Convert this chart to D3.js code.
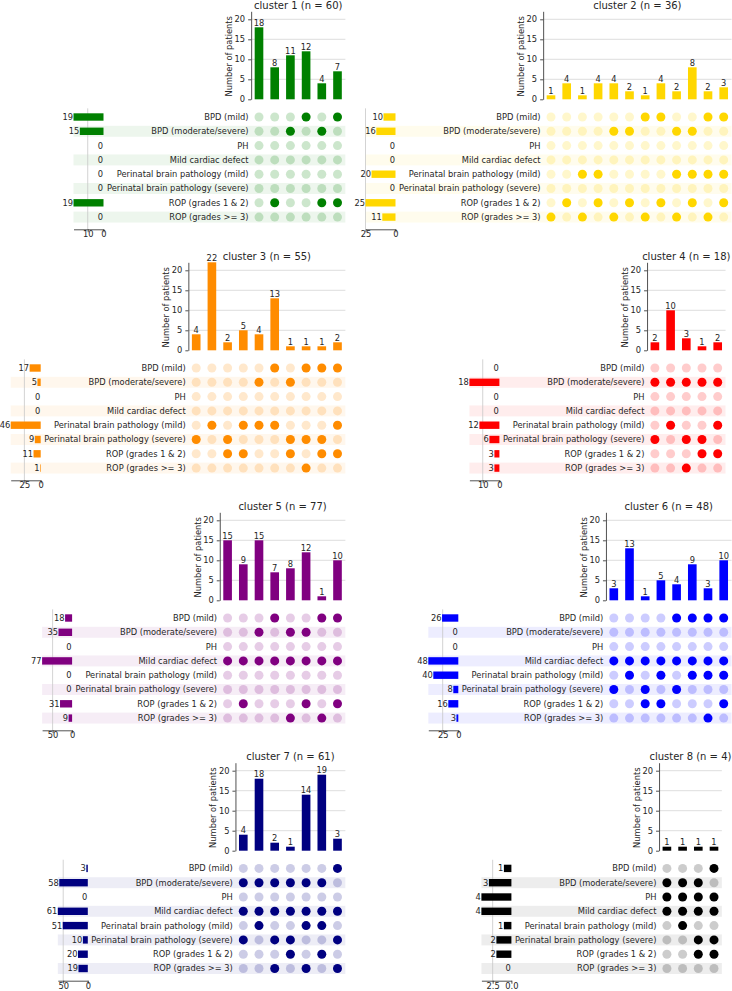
<!DOCTYPE html>
<html>
<head>
<meta charset="utf-8">
<script src="https://cdn.jsdelivr.net/npm/d3@7"></script>
<style>
  body { margin: 0; background: #fff; }
  svg { font-family: "DejaVu Sans", sans-serif; }
</style>
</head>
<body>
<div id="chart"></div>
<script>
// conditions (rows of every matrix)
const categories = [
  "BPD (mild)", "BPD (moderate/severe)", "PH", "Mild cardiac defect",
  "Perinatal brain pathology (mild)", "Perinatal brain pathology (severe)",
  "ROP (grades 1 & 2)", "ROP (grades >= 3)"
];

const clusterNames = ["cluster 1", "cluster 2", "cluster 3", "cluster 4",
                      "cluster 5", "cluster 6", "cluster 7", "cluster 8"];
const clusterN = [60, 36, 55, 18, 77, 48, 61, 4];
const clusterColors = ["#008000", "#ffd700", "#ff8c00", "#ff0000",
                       "#800080", "#0000ff", "#000080", "#000000"];

// intersection sizes per cluster (top bars)
const c1Counts = [18, 8, 11, 12, 4, 7];
const c2Counts = [1, 4, 1, 4, 4, 2, 1, 4, 2, 8, 2, 3];
const c3Counts = [4, 22, 2, 5, 4, 13, 1, 1, 1, 2];
const c4Counts = [2, 10, 3, 1, 2];
const c5Counts = [15, 9, 15, 7, 8, 12, 1, 10];
const c6Counts = [3, 13, 1, 5, 4, 9, 3, 10];
const c7Counts = [4, 18, 2, 1, 14, 19, 3];
const c8Counts = [1, 1, 1, 1];

// which conditions (index into categories) each intersection contains
const c1Members = [[], [6], [1], [0], [1, 6], [0, 6]];
const c2Members = [[7], [6], [4, 7], [4, 6], [1, 7], [1, 6], [0, 7], [0, 6],
                   [1, 4, 7], [1, 4, 6], [0, 4, 7], [0, 4, 6]];
const c3Members = [[5], [4], [5, 6], [4, 6], [1, 4], [0, 4], [1, 5, 6],
                   [0, 5, 7], [0, 5, 6], [0, 4, 6]];
const c4Members = [[1, 5], [1, 4], [1, 5, 7], [1, 5, 6], [1, 4, 6]];
const c5Members = [[3], [3, 6], [1, 3], [0, 3], [1, 3, 7], [1, 3, 6],
                   [0, 3, 7], [0, 3, 6]];
const c6Members = [[3, 5], [3, 4], [3, 5, 6], [3, 4, 6], [0, 3, 5], [0, 3, 4],
                   [0, 3, 4, 7], [0, 3, 4, 6]];
const c7Members = [[1, 3, 5], [1, 3, 4], [1, 3, 5, 7], [1, 3, 5, 6],
                   [1, 3, 4, 7], [1, 3, 4, 6], [0, 3, 5, 7]];
const c8Members = [[1, 2, 3], [1, 2, 3, 4], [1, 2, 3, 5, 6], [0, 2, 3, 5, 6]];

// tick on the set-size axis (besides 0)
const totalsTicks = [10, 25, 25, 10, 50, 25, 50, 2.5];

const allCounts = [c1Counts, c2Counts, c3Counts, c4Counts, c5Counts, c6Counts, c7Counts, c8Counts];
const allMembers = [c1Members, c2Members, c3Members, c4Members, c5Members, c6Members, c7Members, c8Members];

// layout (pixels)
const W = 732, H = 991;
const step = 15.7;           // matrix column width
const rowStep = 14.3;        // matrix row height
const baselines = [99.3, 350.3, 600.3, 850.7];
const lastColX = [337.5, 723.7, 337.5, 717.7, 337.5, 723.7, 337.5, 714];
const textColor = "#262626";
const fs = 8.3;

const svg = d3.select("#chart").append("svg")
  .attr("width", W).attr("height", H);

clusterNames.forEach((name, ci) => {
  const counts = allCounts[ci];
  const members = allMembers[ci];
  const color = clusterColors[ci];
  const b = baselines[Math.floor(ci / 2)];
  const n = counts.length;
  const xRight = lastColX[ci] + step / 2;
  const xLeft = xRight - n * step;

  // set sizes = sum of the intersections holding that condition
  const totals = categories.map((c, k) =>
    d3.sum(counts.filter((v, j) => members[j].includes(k))));

  const g = svg.append("g");

  const x = d3.scaleBand().domain(d3.range(n)).range([xLeft, xRight]);
  const y = d3.scaleLinear().domain([0, 22]).range([b, b - 88]);
  const rowTop = b + 17.7 - rowStep / 2;
  const yRow = d3.scaleBand().domain(categories)
    .range([rowTop, rowTop + rowStep * categories.length]);

  const labelRight = xLeft + step / 2 - 10.5;
  const totRight = labelRight - 145;
  const totLeft = totRight - 30;
  const xt = d3.scaleLinear().domain([0, d3.max(totals)]).range([totRight, totLeft]);

  // row shading
  g.selectAll(".shade")
    .data(categories.filter((c, k) => k % 2 === 1))
    .join("rect")
    .attr("x", totLeft)
    .attr("y", d => yRow(d) + yRow.bandwidth() / 2 - 5.5)
    .attr("width", xRight - totLeft)
    .attr("height", 11)
    .attr("fill", color).attr("fill-opacity", 0.07);

  // totals gridline + axis
  const tick = totalsTicks[ci];
  const fmt = tick % 1 ? d3.format(".1f") : d3.format("d");
  g.append("line")
    .attr("x1", xt(tick)).attr("x2", xt(tick))
    .attr("y1", rowTop - 1.5).attr("y2", b + 130)
    .attr("stroke", "#c8c8c8").attr("stroke-width", 0.8);
  g.append("g")
    .attr("transform", `translate(0,${b + 130})`)
    .call(d3.axisBottom(xt).tickValues([tick, 0]).tickFormat(fmt).tickSize(3).tickSizeOuter(0))
    .call(a => a.select(".domain").attr("stroke", textColor).attr("stroke-width", 0.8))
    .call(a => a.selectAll(".tick line").attr("stroke", textColor).attr("stroke-width", 0.8))
    .call(a => a.selectAll("text").attr("font-size", fs).attr("fill", textColor)
      .attr("font-family", "DejaVu Sans").attr("y", 8.2).attr("dy", 0));

  // totals bars
  g.selectAll(".tot")
    .data(categories)
    .join("rect")
    .attr("x", (d, k) => xt(totals[k]))
    .attr("y", d => yRow(d) + yRow.bandwidth() / 2 - 3.7)
    .attr("width", (d, k) => totRight - xt(totals[k]))
    .attr("height", 7.4)
    .attr("fill", color);
  g.selectAll(".totlab")
    .data(categories)
    .join("text")
    .attr("x", (d, k) => xt(totals[k]) - 0.5)
    .attr("y", d => yRow(d) + yRow.bandwidth() / 2)
    .attr("dy", "0.35em")
    .attr("text-anchor", "end")
    .attr("font-size", fs).attr("fill", textColor)
    .text((d, k) => totals[k]);

  // row labels
  g.selectAll(".rowlab")
    .data(categories)
    .join("text")
    .attr("x", labelRight)
    .attr("y", d => yRow(d) + yRow.bandwidth() / 2)
    .attr("dy", "0.35em")
    .attr("text-anchor", "end")
    .attr("font-size", fs).attr("fill", textColor)
    .text(d => d);

  // matrix dots
  const cells = [];
  members.forEach((m, j) => categories.forEach((c, k) => cells.push({ j, c, on: m.includes(k) })));
  g.selectAll(".dot")
    .data(cells)
    .join("circle")
    .attr("cx", d => x(d.j) + step / 2)
    .attr("cy", d => yRow(d.c) + yRow.bandwidth() / 2)
    .attr("r", 4.5)
    .attr("fill", color)
    .attr("fill-opacity", d => d.on ? 1 : 0.2);

  // intersection bar chart: gridlines
  g.selectAll(".grid")
    .data([5, 10, 15, 20])
    .join("line")
    .attr("x1", xLeft).attr("x2", xRight)
    .attr("y1", d => y(d)).attr("y2", d => y(d))
    .attr("stroke", "#d4d4d4").attr("stroke-width", 0.8);

  g.append("g")
    .attr("transform", `translate(${xLeft},0)`)
    .call(d3.axisLeft(y).tickValues([0, 5, 10, 15, 20]).tickSize(3).tickSizeOuter(0))
    .call(a => a.select(".domain").attr("stroke", textColor).attr("stroke-width", 0.8))
    .call(a => a.selectAll(".tick line").attr("stroke", textColor).attr("stroke-width", 0.8))
    .call(a => a.selectAll("text").attr("font-size", fs).attr("fill", textColor)
      .attr("font-family", "DejaVu Sans"));

  const bw = step * 0.55;
  g.selectAll(".bar")
    .data(counts)
    .join("rect")
    .attr("x", (d, j) => x(j) + (step - bw) / 2)
    .attr("y", d => y(d))
    .attr("width", bw)
    .attr("height", d => b - y(d))
    .attr("fill", color);
  g.selectAll(".barlab")
    .data(counts)
    .join("text")
    .attr("x", (d, j) => x(j) + step / 2)
    .attr("y", d => y(d) - 1.5)
    .attr("text-anchor", "middle")
    .attr("font-size", fs).attr("fill", textColor)
    .text(d => d);

  g.append("text")
    .attr("transform", `translate(${xLeft - 19},${b - 43}) rotate(-90)`)
    .attr("text-anchor", "middle")
    .attr("font-size", fs).attr("fill", textColor)
    .text("Number of patients");

  g.append("text")
    .attr("x", (xLeft + xRight) / 2)
    .attr("y", b - 90.5)
    .attr("text-anchor", "middle")
    .attr("font-size", 10).attr("fill", textColor)
    .text(`${name} (n = ${clusterN[ci]})`);
});
</script>
</body>
</html>
